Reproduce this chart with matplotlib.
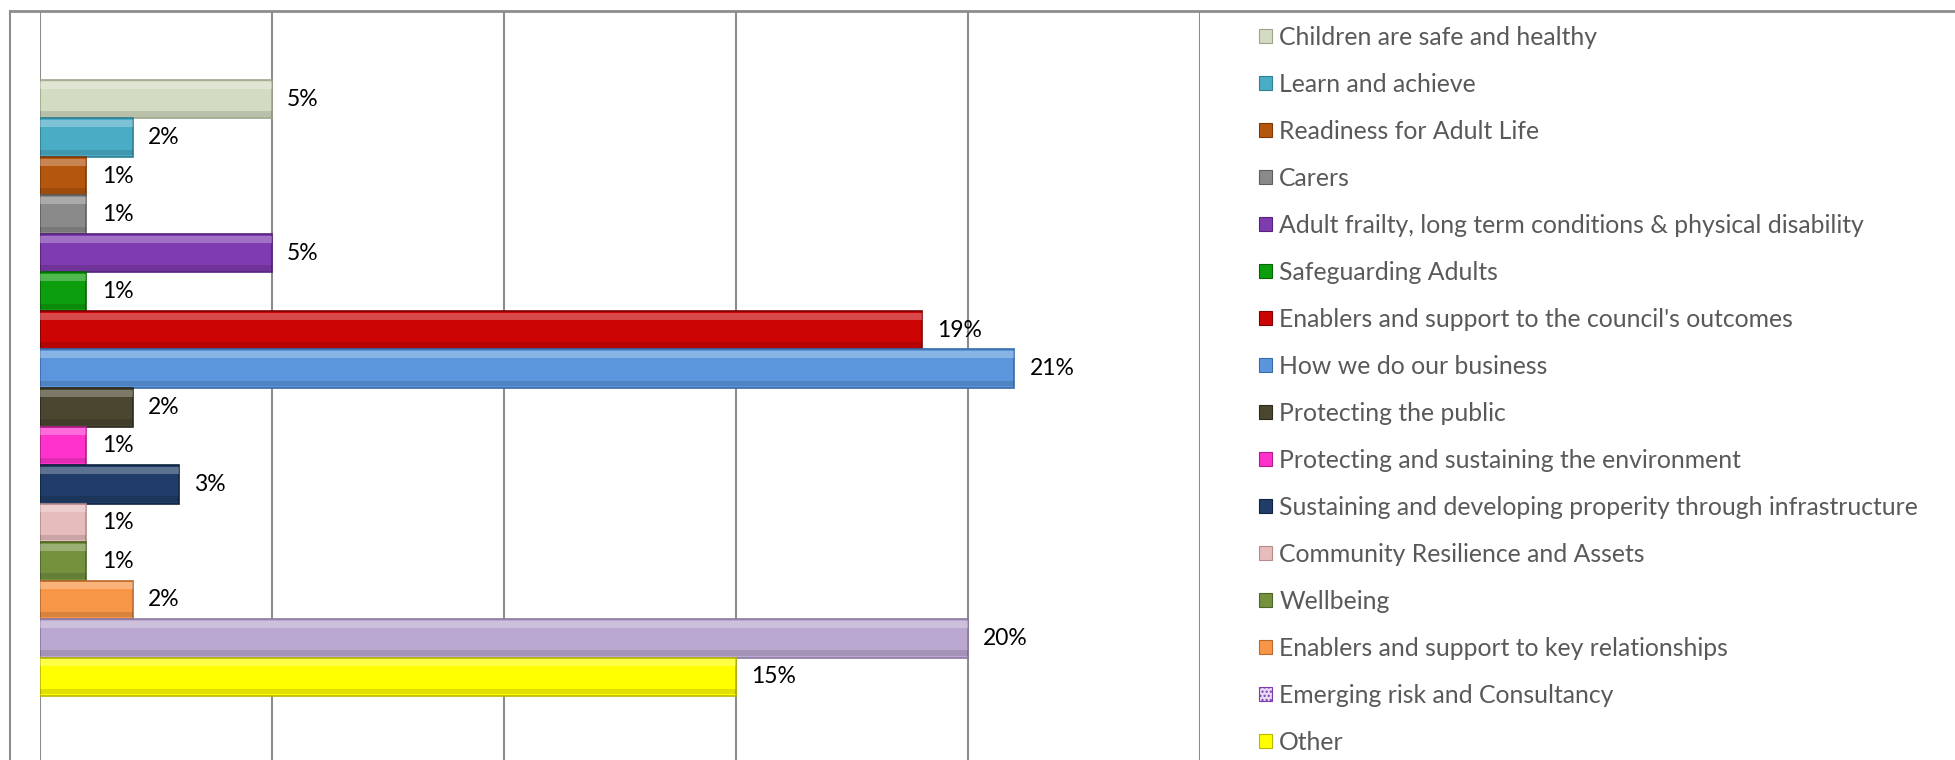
import matplotlib
matplotlib.use("Agg")
import matplotlib.pyplot as plt
from matplotlib import font_manager
from matplotlib.lines import Line2D
from matplotlib.patches import Patch
import numpy as np

categories = [
    "Children are safe and healthy",
    "Learn and achieve",
    "Readiness for Adult Life",
    "Carers",
    "Adult frailty, long term conditions & physical disability",
    "Safeguarding Adults",
    "Enablers and support to the council's outcomes",
    "How we do our business",
    "Protecting the public",
    "Protecting and sustaining the environment",
    "Sustaining and developing properity through infrastructure",
    "Community Resilience and Assets",
    "Wellbeing",
    "Enablers and support to key relationships",
    "Emerging risk and Consultancy",
    "Other",
]
values = [5, 2, 1, 1, 5, 1, 19, 21, 2, 1, 3, 1, 1, 2, 20, 15]
colors = [
    "#D3DBC2", "#4BACC6", "#B5560E", "#8A8A8A", "#7F3BB0", "#0C9E0C",
    "#CC0404", "#5B96DC", "#4A4630", "#FF33CC", "#1F3D68", "#E6BCBC",
    "#74913E", "#F79646", "#BBA8D0", "#FFFF00",
]
edge_colors = [
    "#9BA58A", "#2F7F95", "#7E3A06", "#5E5E5E", "#55247C", "#066606",
    "#7E0202", "#3A6BA8", "#2C2A1C", "#B01E8C", "#10243F", "#B48A8A",
    "#4E6428", "#B86A2E", "#8A7AA0", "#B8B800",
]

names = {f.name for f in font_manager.fontManager.ttflist}
if "Liberation Sans Narrow" in names:
    FONT = "Liberation Sans Narrow"
    leg_size, lab_size = 19, 18
else:
    FONT = "Lato"
    leg_size, lab_size = 17.8, 16.5

W, H = 1955, 760
fig = plt.figure(figsize=(W / 100, H / 100), dpi=100)
ax = fig.add_axes([40 / W, 0, (1200 - 40) / W, 1 - 11 / H])

pos = np.arange(len(values))
bars = ax.barh(pos, values, height=1.0, color=colors, edgecolor=edge_colors,
               linewidth=1.2, zorder=3)

# light top / dark bottom strips to hint at the bevel
ax.barh(pos - 0.36, values, height=0.18, color="white", alpha=0.28,
        linewidth=0, zorder=4)
ax.barh(pos + 0.38, values, height=0.14, color="black", alpha=0.12,
        linewidth=0, zorder=4)

for rect, v in zip(bars, values):
    ax.annotate("%d%%" % v, (v, rect.get_y() + rect.get_height() / 2),
                xytext=(11, 0), textcoords="offset points",
                ha="left", va="center", fontsize=lab_size,
                family=[FONT, "DejaVu Sans"], color="black")

ax.set_xlim(0, 25)
ax.set_ylim(17.16, -2.29)
ax.set_xticks(np.arange(0, 26, 5))
ax.set_yticks([])
ax.tick_params(length=0, labelbottom=False)
ax.grid(axis="x", color="#8C8C8C", linewidth=1.5, zorder=0)
for s in ax.spines.values():
    s.set_visible(False)

# chart border (left and top edges)
fig.add_artist(Line2D([10 / W, 10 / W], [0, 1 - 11 / H], color="#8C8C8C",
                      linewidth=1.5, transform=fig.transFigure))
fig.add_artist(Line2D([10 / W, 1], [1 - 11 / H, 1 - 11 / H], color="#8C8C8C",
                      linewidth=2, transform=fig.transFigure))

handles = []
for i, (c, e) in enumerate(zip(colors, edge_colors)):
    if categories[i] == "Emerging risk and Consultancy":
        handles.append(Patch(facecolor="#E4DAF2", edgecolor="#7F3BB0",
                             hatch="....", linewidth=0.8))
    else:
        handles.append(Patch(facecolor=c, edgecolor=e, linewidth=0.8))

leg = fig.legend(handles, categories, loc="upper left",
                 bbox_to_anchor=(1259 / W, 1 - 26 / H), frameon=False,
                 prop={"family": [FONT, "DejaVu Sans"], "size": leg_size},
                 handlelength=0.52, handleheight=0.52, handletextpad=0.3,
                 labelspacing=0.97, borderaxespad=0, borderpad=0)
for t in leg.get_texts():
    t.set_color("#595959")

fig.savefig("out.png", dpi=100)
